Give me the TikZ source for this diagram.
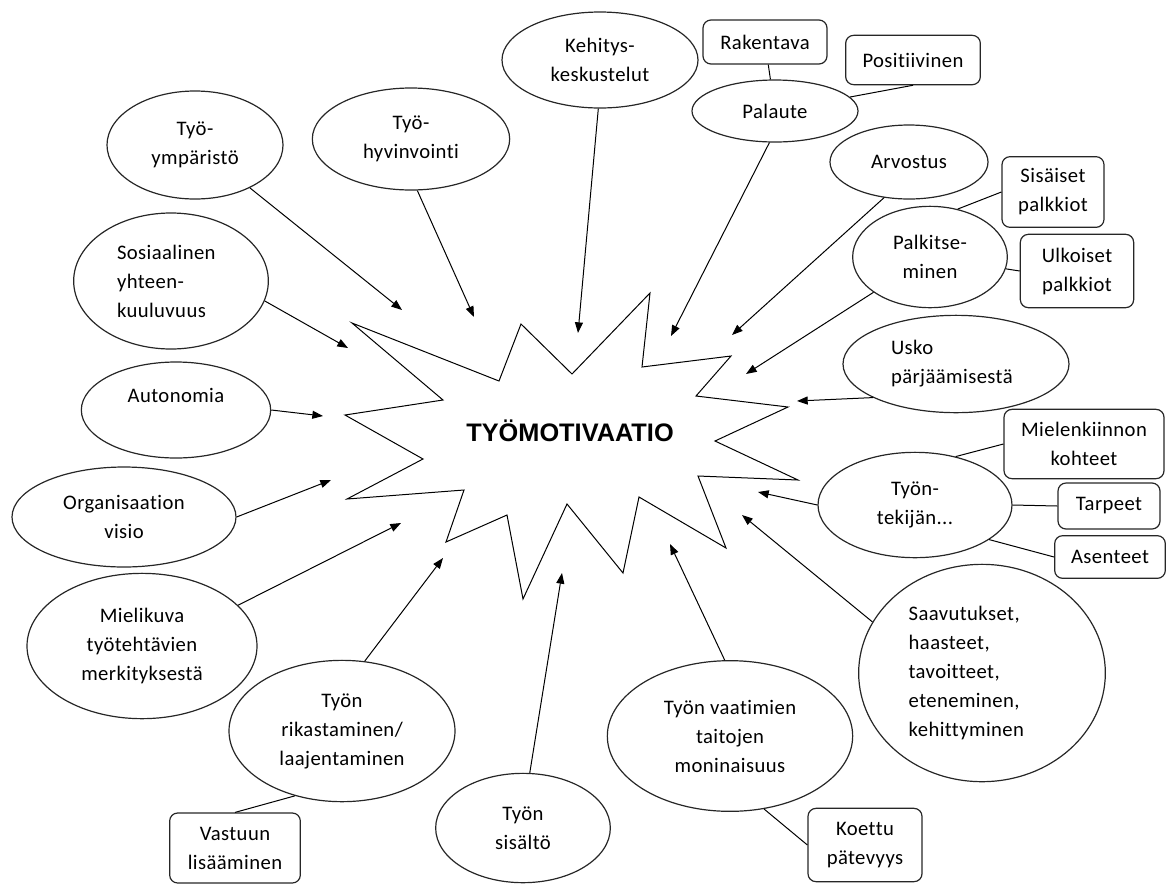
\documentclass[tikz,border=0pt]{standalone}
\usepackage{fontspec}
\setmainfont[Ligatures={NoCommon},LetterSpace=2]{Carlito}
\newfontfamily\titlefont{Liberation Sans}
\usetikzlibrary{shapes.geometric,arrows.meta}

\tikzset{
  oval/.style={ellipse, draw=black!85, line width=0.9pt, inner sep=0pt, align=center},
  tag/.style={rectangle, rounded corners=6pt, draw=black!85, line width=0.9pt, inner sep=0pt, align=center},
  feed/.style={-{Triangle[length=8pt,width=6pt]}, line width=0.75pt},
  link/.style={line width=0.75pt}
}

\begin{document}
\begin{tikzpicture}[x=0.75pt, y=-0.75pt, font=\fontsize{15.5}{21.75}\selectfont]
  \useasboundingbox (0,0) rectangle (1171,883);
  \draw [line width=0.75pt] (352,323)--(499,381)--(521,324)--(572,374)--(650,293)--(642,367)
    --(731,356)--(696,396)--(788,407)--(715,441)--(798,480)--(698,476)--(726,548)--(639,497)
    --(623,573)--(567,504)--(523,599)--(507,515)--(446,542)--(464,490)--(347,499)--(423,459)
    --(345,415)--(443,400)--cycle;
  \node (motiv) at (570,431) {\titlefont\bfseries\fontsize{19}{21}\selectfont TYÖMOTIVAATIO};
  \node [oval, minimum width=132pt, minimum height=81pt] (ymp) at (195,145) {Työ-\\ympäristö};
  \node [oval, minimum width=148pt, minimum height=76.5pt] (hyv) at (411,139) {Työ-\\hyvinvointi};
  \node [oval, minimum width=147pt, minimum height=72pt] (keh) at (600,60) {Kehitys-\\keskustelut};
  \node [oval, minimum width=124.5pt, minimum height=46.5pt] (pal) at (775,111) {Palaute};
  \node [oval, minimum width=118.5pt, minimum height=55.5pt] (arv) at (909,162) {Arvostus};
  \node [oval, minimum width=116pt, minimum height=76pt] (palk) at (930,257) {Palkitse-\\minen};
  \node [oval, minimum width=169.5pt, minimum height=73pt, align=left, text width=97.5pt] (usko) at (956,364) {Usko\\pärjäämisestä};
  \node [oval, minimum width=145.5pt, minimum height=79pt] (tekija) at (915,505) {Työn-\\tekijän...};
  \node [oval, minimum width=185pt, minimum height=163pt, align=left, text width=110pt] (saav) at (982,673) {Saavutukset,\\haasteet,\\tavoitteet,\\eteneminen,\\kehittyminen};
  \node [oval, minimum width=184pt, minimum height=113pt] (vaat) at (730,736) {Työn vaatimien\\taitojen\\moninaisuus};
  \node [oval, minimum width=131pt, minimum height=82pt] (sis) at (523,828) {Työn\\sisältö};
  \node [oval, minimum width=169.5pt, minimum height=106pt] (rik) at (342,731) {Työn\\rikastaminen/\\laajentaminen};
  \node [oval, minimum width=172.5pt, minimum height=109pt] (miel) at (142,646) {Mielikuva\\työtehtävien\\merkityksestä};
  \node [oval, minimum width=168pt, minimum height=75pt] (org) at (124,517) {Organisaation\\visio};
  \node [oval, minimum width=142pt, minimum height=72pt] (auto) at (176,410) {Autonomia\\~};
  \node [oval, minimum width=146pt, minimum height=102pt, align=left, text width=81pt] (sos) at (171,281) {Sosiaalinen\\yhteen-\\kuuluvuus};
  \node [tag, minimum width=93pt, minimum height=33pt] (rak) at (765,42) {Rakentava};
  \node [tag, minimum width=101pt, minimum height=37pt] (pos) at (913,60) {Positiivinen};
  \node [tag, minimum width=76.5pt, minimum height=53pt] (sisp) at (1053,192) {Sisäiset\\palkkiot};
  \node [tag, minimum width=85pt, minimum height=55pt] (ulk) at (1077,271) {Ulkoiset\\palkkiot};
  \node [tag, minimum width=120pt, minimum height=52pt] (mk) at (1084,444) {Mielenkiinnon\\kohteet};
  \node [tag, minimum width=76.5pt, minimum height=34.5pt] (tarp) at (1109,506) {Tarpeet};
  \node [tag, minimum width=83pt, minimum height=32pt] (ase) at (1110,557) {Asenteet};
  \node [tag, minimum width=85.5pt, minimum height=55pt] (koe) at (865,845) {Koettu\\pätevyys};
  \node [tag, minimum width=98pt, minimum height=52.5pt] (vas) at (235,848) {Vastuun\\lisääminen};
  \coordinate (ymp-end) at (402,310);
  \coordinate (hyv-end) at (474,317);
  \coordinate (keh-end) at (578,333);
  \coordinate (pal-end) at (671,336);
  \coordinate (arv-end) at (732,335);
  \coordinate (palk-end) at (746,374);
  \coordinate (usko-end) at (797,401);
  \coordinate (tekija-end) at (758,492);
  \coordinate (saav-end) at (742,515);
  \coordinate (vaat-end) at (670,544);
  \coordinate (sis-end) at (562,573);
  \coordinate (rik-end) at (443,558);
  \coordinate (miel-end) at (401,523);
  \coordinate (org-end) at (331,480);
  \coordinate (auto-end) at (323,416);
  \coordinate (sos-end) at (348,348);
  \draw [feed] (ymp.-38)--(ymp-end);
  \draw [feed] (hyv.-83)--(hyv-end);
  \draw [feed] (keh.-92)--(keh-end);
  \draw [feed] (pal.-100)--(pal-end);
  \draw [feed] (arv.-125)--(arv-end);
  \draw [feed] (palk.-148)--(palk-end);
  \draw [feed] (usko.-158)--(usko-end);
  \draw [feed] (tekija.west)--(tekija-end);
  \draw [feed] (saav.155)--(saav-end);
  \draw [feed] (vaat.94)--(vaat-end);
  \draw [feed] (sis.83)--(sis-end);
  \draw [feed] (rik.72)--(rik-end);
  \draw [feed] (miel.23)--(miel-end);
  \draw [feed] (org.east)--(org-end);
  \draw [feed] (auto.east)--(auto-end);
  \draw [feed] (sos.-12)--(sos-end);
  \draw [link] (rak)--(pal);
  \draw [link] (pal)--(pos.south);
  \draw [link] (palk.60)--(sisp.west);
  \draw [link] (palk)--(ulk.west);
  \draw [link] (tekija.50)--(mk.west);
  \draw [link] (tekija.east)--(tarp.west);
  \draw [link] (tekija.-25)--(ase.west);
  \draw [link] (vaat.-65)--(koe.west);
  \draw [link] (rik.-126)--(vas.north);
\end{tikzpicture}
\end{document}
